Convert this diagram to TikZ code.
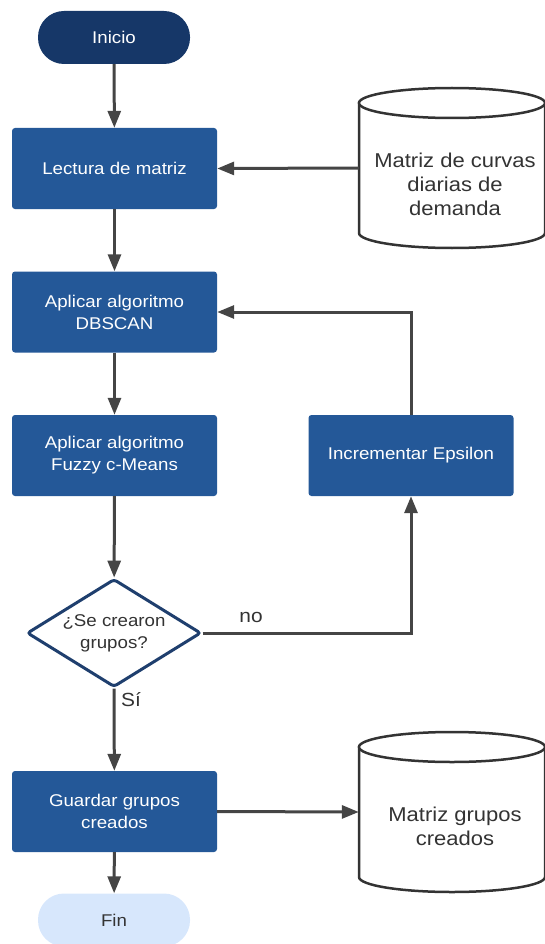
\documentclass[tikz,border=0pt]{standalone}
\usepackage{fontspec}
\setmainfont{Liberation Sans}[FakeStretch=1.1]
\usetikzlibrary{shapes.geometric,arrows.meta}
\definecolor{navy}{HTML}{163768}
\definecolor{stepblue}{HTML}{245898}
\definecolor{paleblue}{HTML}{D7E7FC}
\definecolor{linegray}{HTML}{454545}
\definecolor{textgray}{HTML}{333333}
\definecolor{diaborder}{HTML}{1F3F6E}
\tikzset{
  terminal/.style={rectangle, rounded corners=26pt, minimum width=152pt, minimum height=53pt,
    inner sep=0pt, font=\fontsize{17}{21}\selectfont},
  procbox/.style={rectangle, rounded corners=3pt, fill=stepblue, text=white, minimum width=205pt,
    minimum height=81pt, inner sep=0pt, align=center, font=\fontsize{17}{22}\selectfont},
  decision/.style={diamond, aspect=1.61, minimum width=174pt, minimum height=108pt, inner sep=0pt,
    draw=diaborder, line width=3pt, rounded corners=3pt, fill=white, text=textgray, align=center,
    font=\fontsize{17}{22}\selectfont},
  dbanchor/.style={rectangle, minimum width=186pt, minimum height=160pt, inner sep=0pt},
  dbtext/.style={text=textgray, align=center, font=\fontsize{20}{24}\selectfont},
  cylline/.style={draw=textgray, line width=2.5pt, fill=white},
  arr/.style={draw=linegray, line width=3pt, -{Triangle[length=17pt,width=13pt]}},
  lbl/.style={text=textgray, font=\fontsize{19}{22}\selectfont}
}
\begin{document}
\begin{tikzpicture}[x=1pt,y=-1pt]
\useasboundingbox (0,0) rectangle (545,944);

% terminals
\node[terminal, fill=navy, text=white] (inicio) at (114,37.5) {Inicio};
\node[terminal, fill=paleblue, text=textgray] (fin) at (114,920) {Fin};

% process steps
\node[procbox] (lectura) at (114.5,168.5) {Lectura de matriz};
\node[procbox] (dbscan) at (114.5,312) {Aplicar algoritmo\\DBSCAN};
\node[procbox] (fuzzy) at (114.5,455.5) {Aplicar algoritmo\\Fuzzy c-Means};
\node[procbox] (eps) at (411,455.5) {Incrementar Epsilon};
\node[procbox] (guardar) at (114.5,811.5) {Guardar grupos\\creados};

% decision
\node[decision] (dec) at (114,633) {¿Se crearon\\grupos?};

% data stores (cylinders)
\foreach \cy in {168,812}{
  \filldraw[cylline] (359,\cy-65) -- (359,\cy+65)
    arc[start angle=180, end angle=0, x radius=93, y radius=15] -- (545,\cy-65) -- cycle;
  \draw[cylline] (452,\cy-65) ellipse [x radius=93, y radius=15];
}
\node[dbanchor] (db1) at (452,168) {};
\node[dbanchor] (db2) at (452,812) {};
\node[dbtext] (db1txt) at (455,184) {Matriz de curvas\\diarias de\\demanda};
\node[dbtext] (db2txt) at (455,826) {Matriz grupos\\creados};

% connectors
\draw[arr] (inicio) -- (lectura);
\draw[arr] (db1.west) -- (lectura.east);
\draw[arr] (lectura) -- (dbscan);
\draw[arr] (dbscan) -- (fuzzy);
\draw[arr] (fuzzy) -- (dec);
\draw[arr] (dec.east) -| (eps.south);
\draw[arr] (eps.north) |- (dbscan.east);
\draw[arr] (dec.south) -- (guardar);
\draw[arr] (guardar) -- (fin);
\draw[arr] (guardar.east) -- (db2.west);

% branch labels
\node[lbl] (nolbl) at (251,617) {no};
\node[lbl] (silbl) at (131,700) {Sí};
\end{tikzpicture}
\end{document}
